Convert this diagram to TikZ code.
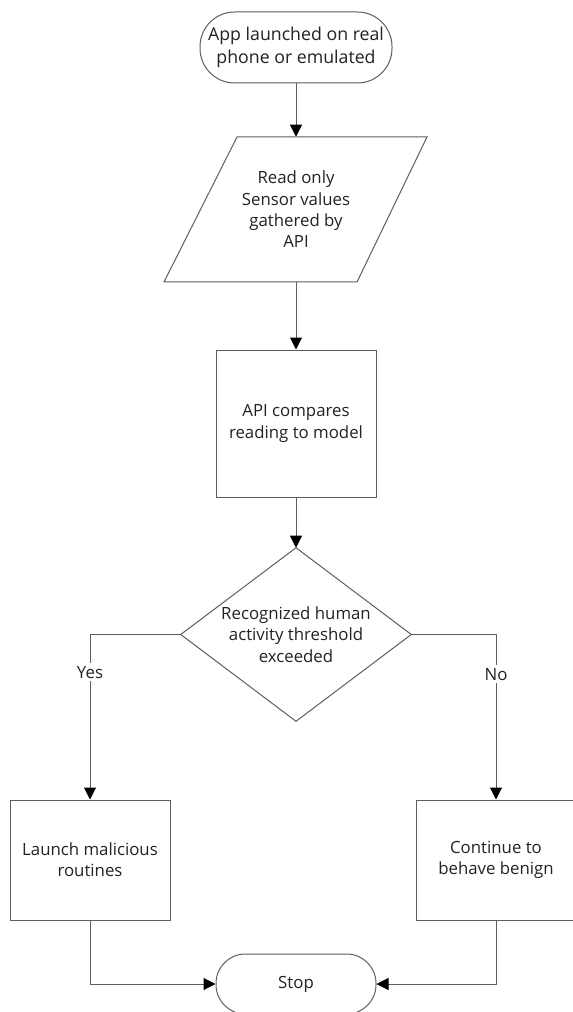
\documentclass[tikz,border=0pt]{standalone}
\usepackage{fontspec}
\setmainfont{Open Sans}
\usetikzlibrary{arrows.meta}
\definecolor{linec}{HTML}{5E5E5E}
\definecolor{textc}{HTML}{222222}
\begin{document}
\begin{tikzpicture}[x=0.75pt,y=-0.75pt,
  every node/.style={font=\fontsize{12.6}{16}\selectfont, text=textc, align=center, inner sep=0pt},
  shapeline/.style={draw=linec, line width=0.75pt},
  conn/.style={draw=linec, line width=0.75pt, -{Triangle[width=9pt,length=9pt,color=black,fill=black]}},
  terminal/.style={shapeline, rectangle, minimum width=144pt, fill=white},
  procbox/.style={shapeline, rectangle, minimum width=120pt},
  blank/.style={rectangle},
  lbl/.style={fill=white, inner xsep=1pt, inner ysep=2pt}
]
\useasboundingbox (0,0) rectangle (572,1012);

\node[terminal, minimum height=53.25pt, rounded corners=26pt,
      font=\fontsize{13.3}{17.5}\selectfont] (start) at (296,47.5)
  {App launched on real\\phone or emulated};

\node[blank, minimum width=142.5pt, minimum height=108.75pt] (para) at (296,209.5)
  {Read only\\Sensor values\\gathered by\\API};
\draw[shapeline] (237,137) -- (427,137) -- (357,282) -- (164,282) -- cycle;

\node[procbox, minimum height=110.25pt] (api) at (296,423.5)
  {API compares\\reading to model};

\node[blank, minimum width=172.5pt, minimum height=129.75pt] (dec) at (296,634.5)
  {Recognized human\\activity threshold\\exceeded};
\draw[shapeline] (dec.north) -- (dec.east) -- (dec.south) -- (dec.west) -- cycle;

\node[procbox, minimum height=90pt] (yesbox) at (90,860)
  {Launch malicious\\routines};
\node[procbox, minimum height=90pt] (nobox) at (496,860)
  {Continue to\\behave benign};

\node[terminal, minimum width=120pt, minimum height=45pt, rounded corners=22pt] (stop) at (296,984)
  {Stop};

\draw[conn] (start) -- (para);
\draw[conn] (para) -- (api);
\draw[conn] (api) -- (dec);
\draw[conn] (dec.west) -| node[lbl, pos=0.614] {Yes} (yesbox.north);
\draw[conn] (dec.east) -| node[lbl, pos=0.62] {No} (nobox.north);
\draw[conn] (yesbox.south) |- (stop.west);
\draw[conn] (nobox.south) |- (stop.east);
\end{tikzpicture}
\end{document}
